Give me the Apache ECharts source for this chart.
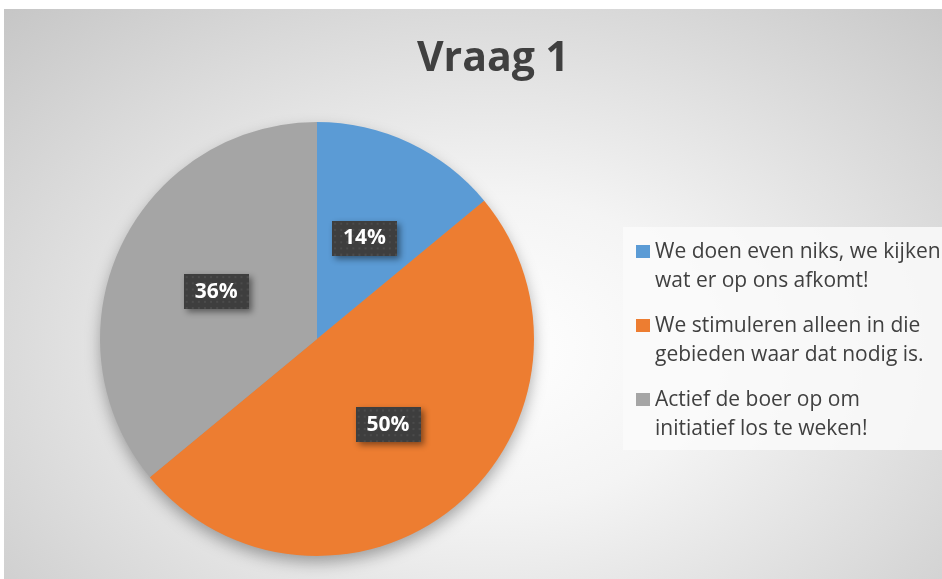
<!DOCTYPE html>
<html>
<head>
<meta charset="utf-8" />
<title>Vraag 1</title>
<script src="https://cdn.jsdelivr.net/npm/echarts@6/dist/echarts.min.js"></script>
<style>
    html, body { margin: 0; padding: 0; background: #fff; }
    #bg {
        position: absolute; left: 4px; top: 9px; width: 938px; height: 570px;
        background: radial-gradient(ellipse farthest-corner at 52% 60%, #ffffff 0%, #f4f4f4 32%, #c6c6c6 100%);
    }
    #main { position: absolute; left: 0; top: 0; width: 942px; height: 579px; }
</style>
</head>
<body>
<div id="bg"></div>
<div id="main"></div>
<script type="text/javascript">
// data
var names = [
    'We doen even niks, we kijken\nwat er op ons afkomt!',
    'We stimuleren alleen in die\ngebieden waar dat nodig is.',
    'Actief de boer op om\ninitiatief los te weken!'
];
var values = [14, 50, 36];
var colors = ['#5B9BD5', '#ED7D31', '#A5A5A5'];

// dark dotted box behind the percentages
function dotPattern(w, h) {
    var c = document.createElement('canvas');
    c.width = w; c.height = h;
    var ctx = c.getContext('2d');
    ctx.fillStyle = '#3e3e3e';
    ctx.fillRect(0, 0, w, h);
    ctx.fillStyle = '#4b4b4b';
    for (var y = 3; y < h; y += 6) {
        for (var x = 3; x < w; x += 6) ctx.fillRect(x - 1, y - 1, 2, 2);
    }
    return c;
}

var pieData = [];
names.forEach(function (n, i) {
    pieData.push({ name: n, value: values[i], itemStyle: { color: colors[i] } });
});

var myChart = echarts.init(document.getElementById('main'));
var option = {
    backgroundColor: 'transparent',
    animation: false,
    textStyle: { fontFamily: 'Open Sans' },
    title: {
        text: 'Vraag 1',
        left: 488,
        top: 34,
        textAlign: 'center',
        textStyle: { fontFamily: 'Open Sans', fontSize: 41, fontWeight: 'bold', color: '#404040' }
    },
    graphic: [{
        type: 'rect',
        z: -1,
        shape: { x: 623, y: 227, width: 330, height: 223 },
        style: { fill: 'rgba(250,250,250,0.85)' }
    }],
    legend: {
        orient: 'vertical',
        left: 636,
        top: 237,
        padding: 0,
        itemWidth: 14,
        itemHeight: 59,
        itemGap: 15,
        icon: 'path://M0,0L0.01,0M0,8H14V21H0ZM0,59L0.01,59',
        itemStyle: { borderWidth: 0 },
        textStyle: { fontFamily: 'Open Sans', fontSize: 21, lineHeight: 29.5, color: '#404040' },
        data: names
    },
    series: [{
        // soft drop shadow under the pie
        type: 'pie',
        silent: true,
        z: 1,
        center: [317, 339],
        radius: 216,
        label: { show: false },
        labelLine: { show: false },
        itemStyle: { color: '#999', borderWidth: 0, shadowBlur: 16, shadowOffsetY: 7, shadowColor: 'rgba(0,0,0,0.35)' },
        data: [{ value: 1, name: '' }]
    }, {
        type: 'pie',
        z: 2,
        center: [317, 339],
        radius: 217,
        startAngle: 90,
        clockwise: true,
        itemStyle: { borderWidth: 0 },
        label: {
            show: true,
            position: 'inside',
            formatter: '{c}%',
            color: '#fff',
            fontFamily: 'Open Sans',
            fontWeight: 'bold',
            fontSize: 21,
            padding: [8, 11, 6, 11],
            backgroundColor: { image: dotPattern(64, 34) },
            shadowBlur: 6,
            shadowOffsetX: 3,
            shadowOffsetY: 3,
            shadowColor: 'rgba(0,0,0,0.45)'
        },
        labelLine: { show: false },
        emphasis: { disabled: true },
        data: pieData
    }]
};
myChart.setOption(option);
</script>
</body>
</html>
